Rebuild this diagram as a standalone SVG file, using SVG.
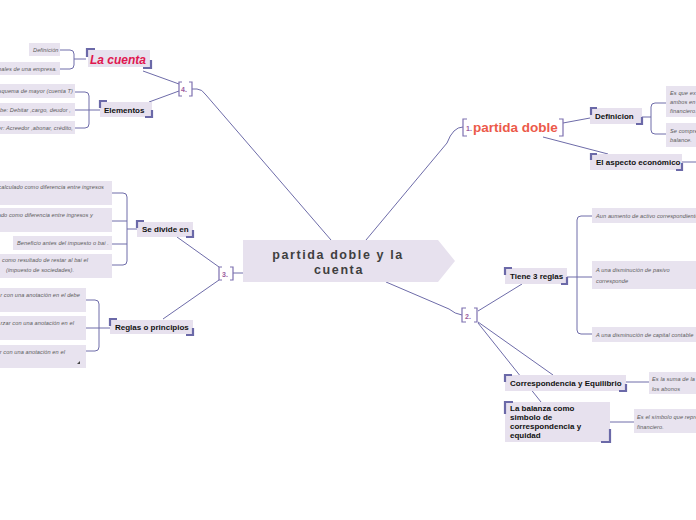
<svg xmlns="http://www.w3.org/2000/svg" width="696" height="520" viewBox="0 0 696 520">
<style>
.box{fill:#e7e1ee}
.note{fill:#e8e3ef}
.cn{fill:none;stroke:#6e6ca9;stroke-width:1}
.cr{fill:none;stroke:#6b69a8;stroke-width:2.2}
.br{fill:none;stroke:#7d70b0;stroke-width:1.2}
.lb{font-family:"Liberation Sans",Arial,sans-serif;font-weight:bold;font-size:8px;fill:#111}
.nt{font-family:"Liberation Sans",Arial,sans-serif;font-style:italic;font-size:5.6px;fill:#5a5a5a;letter-spacing:0.1px}
.num{font-family:"Liberation Sans",Arial,sans-serif;font-weight:bold;font-size:7px;fill:#9a5c9e}
.ct{font-family:"Liberation Sans",Arial,sans-serif;font-weight:bold;font-size:12.5px;letter-spacing:1.6px;fill:#3f3f3f;text-anchor:middle}
.end{text-anchor:end}
</style>
<rect width="696" height="520" fill="#ffffff"/>
<g id="connectors">
<path class="cn" d="M366,240 L447,143 Q453,127 463,127"/>
<path class="cn" d="M386,282 L449,309 Q455,314 462,315"/>
<path class="cn" d="M233,273 H243"/>
<path class="cn" d="M192,89 H197 Q202,89 206,95 L331,240"/>
<path class="cn" d="M179,84 L143,71"/>
<path class="cn" d="M179,91 L149,102"/>
<path class="cn" d="M60,50 H70 Q74,50 74,54 V65 Q74,69 70,69 H60 M74,59 H86"/>
<path class="cn" d="M75,92 H85 Q89,92 89,96 V124 Q89,128 85,128 H75 M75,110 H100"/>
<path class="cn" d="M219,267 L177,237"/>
<path class="cn" d="M219,280 L163,319"/>
<path class="cn" d="M112,193 H123 Q127,193 127,197 V261 Q127,265 123,265 H112 M112,221 H127 M112,244 H127 M127,229 H137"/>
<path class="cn" d="M86,300 H95 Q99,300 99,304 V347 Q99,351 95,351 H86 M86,328 H110"/>
<path class="cn" d="M563,123 L590,118"/>
<path class="cn" d="M543,137 L608,154"/>
<path class="cn" d="M666,103 H655 Q651,103 651,107 V130 Q651,134 655,134 H666 M642,117 H651"/>
<path class="cn" d="M682,162 H696"/>
<path class="cn" d="M478,311 L522,284"/>
<path class="cn" d="M478,322 L553,375"/>
<path class="cn" d="M478,323 L541,402"/>
<path class="cn" d="M592,216 H581 Q577,216 577,220 V330 Q577,334 581,334 H592 M567,277 H592"/>
<path class="cn" d="M626,382 H649"/>
<path class="cn" d="M610,422 H634"/>
</g>
<g id="central">
<polygon points="243,240 438,240 455,261 438,282 243,282" fill="#e7e1ee"/>
<text class="ct" x="338" y="258.5">partida doble y la</text>
<text class="ct" x="339" y="274">cuenta</text>
</g>
<g id="b1">
<path class="br" d="M467,119 H463 V136 H467 M559,119 H563 V136 H559"/>
<text class="num" x="466" y="131">1.</text>
<text x="473" y="132" font-family="Liberation Sans, Arial, sans-serif" font-weight="bold" font-size="13.5" fill="#ec5a4a">partida doble</text>
</g>
<g id="b2">
<path class="br" d="M466,308 H462 V322 H466 M474,308 H477 V322 H474"/>
<text class="num" x="465" y="319">2.</text>
</g>
<g id="b3">
<path class="br" d="M222,267 H219 V280 H222 M230,267 H233 V280 H230"/>
<text class="num" x="222" y="277">3.</text>
</g>
<g id="b4">
<path class="br" d="M182,82 H179 V96 H182 M189,82 H192 V96 H189"/>
<text class="num" x="181" y="92">4.</text>
</g>
<g id="la-cuenta">
<rect class="box" x="88" y="50" width="62" height="17"/>
<path class="cr" d="M87,57 V49 H95 M143,68 H151 V60"/>
<text x="90" y="64" font-family="Liberation Sans, Arial, sans-serif" font-weight="bold" font-style="italic" font-size="12" fill="#e0174f">La cuenta</text>
</g>
<g id="lc-def"><rect class="note" x="29" y="43" width="31" height="13"/><text class="nt" x="33" y="52">Definición</text></g>
<g id="lc-2"><rect class="note" x="0" y="62" width="60" height="13"/><text class="nt end" x="57" y="71">onales de una empresa.</text></g>
<g id="elementos">
<rect class="box" x="100" y="102" width="52" height="15"/>
<path class="cr" d="M100,108 V101 H107 M145,117 H152 V110"/>
<text class="lb" x="104" y="113">Elementos</text>
</g>
<g id="el-1"><rect class="note" x="0" y="84" width="75" height="14"/><text class="nt end" x="73" y="93">squema de mayor (cuenta T)</text></g>
<g id="el-2"><rect class="note" x="0" y="103" width="75" height="13"/><text class="nt end" x="71" y="112">be: Debitar ,cargo, deudor ,</text></g>
<g id="el-3"><rect class="note" x="0" y="121" width="75" height="13"/><text class="nt end" x="73" y="130">er: Acreedor ,abonar, crédito,</text></g>
<g id="se-divide">
<rect class="box" x="137" y="222" width="56" height="15"/>
<path class="cr" d="M137,228 V221 H144 M186,237 H193 V230"/>
<text class="lb" x="142" y="232">Se divide en</text>
</g>
<g id="sd-1"><rect class="note" x="0" y="181" width="112" height="24"/><text class="nt end" x="104" y="189">r calculado como diferencia entre ingresos</text></g>
<g id="sd-2"><rect class="note" x="0" y="208" width="112" height="24"/><text class="nt end" x="93" y="217">lado como diferencia entre ingresos y</text></g>
<g id="sd-3"><rect class="note" x="13" y="236" width="99" height="14"/><text class="nt" x="17" y="245">Beneficio antes del impuesto o bai .</text></g>
<g id="sd-4"><rect class="note" x="0" y="254" width="112" height="24"/><text class="nt" x="2" y="262">como resultado de restar al bai el</text><text class="nt" x="6" y="272">(impuesto de sociedades).</text></g>
<g id="reglas">
<rect class="box" x="110" y="320" width="83" height="14"/>
<path class="cr" d="M110,326 V319 H117 M186,335 H193 V328"/>
<text class="lb" x="115" y="330">Reglas o principios</text>
</g>
<g id="rp-1"><rect class="note" x="0" y="288" width="86" height="24"/><text class="nt end" x="80" y="297">r con una anotación en el debe</text></g>
<g id="rp-2"><rect class="note" x="0" y="316" width="86" height="24"/><text class="nt end" x="74" y="325">rzar con una anotación en el</text></g>
<g id="rp-3"><rect class="note" x="0" y="345" width="86" height="23"/><text class="nt end" x="65" y="354">r con una anotación en el</text><polygon points="80,361 80,364 77,364" fill="#444"/></g>
<g id="definicion">
<rect class="box" x="590" y="108" width="52" height="16"/>
<path class="cr" d="M591,115 V108 H597 M636,124 H642 V117"/>
<text class="lb" x="595" y="119">Definicion</text>
</g>
<g id="def-1"><rect class="note" x="666" y="86" width="30" height="31"/><text class="nt" x="670" y="95">Es que ex</text><text class="nt" x="670" y="104">ambos en</text><text class="nt" x="670" y="113">financiero.</text></g>
<g id="def-2"><rect class="note" x="666" y="123" width="30" height="24"/><text class="nt" x="670" y="133">Se compre</text><text class="nt" x="670" y="142">balance.</text></g>
<g id="aspecto">
<rect class="box" x="590" y="154" width="92" height="16"/>
<path class="cr" d="M591,160 V154 H597 M676,170 H682 V163"/>
<text class="lb" x="596" y="165">El aspecto económico</text>
</g>
<g id="tiene">
<rect class="box" x="505" y="268" width="62" height="16"/>
<path class="cr" d="M505,275 V268 H512 M561,284 H567 V277"/>
<text class="lb" x="510" y="279">Tiene 3 reglas</text>
</g>
<g id="tr-1"><rect class="note" x="592" y="208" width="104" height="15"/><text class="nt" x="596" y="217.5">Aun aumento de activo correspondiente</text></g>
<g id="tr-2"><rect class="note" x="592" y="261" width="104" height="28"/><text class="nt" x="596" y="272">A una disminución de pasivo</text><text class="nt" x="596" y="283">corresponde</text></g>
<g id="tr-3"><rect class="note" x="592" y="327" width="104" height="15"/><text class="nt" x="596" y="336.5">A una disminución de capital contable</text></g>
<g id="correspondencia">
<rect class="box" x="505" y="375" width="121" height="16"/>
<path class="cr" d="M505,382 V375 H512 M619,391 H626 V384"/>
<text class="lb" x="510" y="386">Correspondencia y Equilibrio</text>
</g>
<g id="co-1"><rect class="note" x="649" y="372" width="47" height="22"/><text class="nt" x="652" y="381">Es la suma de la</text><text class="nt" x="652" y="390.5">los abonos</text></g>
<g id="balanza">
<rect class="box" x="505" y="402" width="105" height="40"/>
<path class="cr" d="M505,414 V402 H513 M601,442 H610 V429"/>
<text class="lb" x="510" y="411">La balanza como</text>
<text class="lb" x="510" y="420">simbolo de</text>
<text class="lb" x="510" y="429">correspondencia y</text>
<text class="lb" x="510" y="438">equidad</text>
</g>
<g id="ba-1"><rect class="note" x="634" y="409" width="62" height="24"/><text class="nt" x="637" y="419">Es el símbolo que repre</text><text class="nt" x="637" y="429">financiero.</text></g>
</svg>
